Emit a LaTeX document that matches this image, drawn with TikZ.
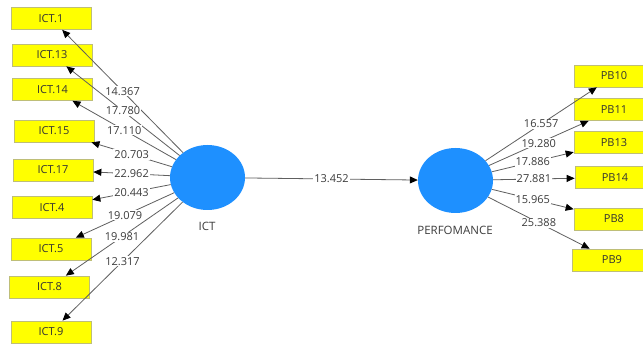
\documentclass[tikz,border=0pt]{standalone}
\usepackage{fontspec}
\setmainfont{Open Sans}
\usetikzlibrary{arrows.meta,shapes.geometric}
\definecolor{lvblue}{RGB}{30,144,255}
\definecolor{mvyellow}{RGB}{255,255,0}
\definecolor{mvborder}{RGB}{190,190,120}
\definecolor{linegray}{RGB}{95,95,95}
\definecolor{numgray}{RGB}{60,60,60}
\tikzset{
  indbox/.style={draw=mvborder, line width=0.7pt, fill=mvyellow, rectangle, minimum width=80pt, minimum height=22pt, inner sep=0pt, font=\fontsize{11}{12}\selectfont, text=black!80},
  latent/.style={ellipse, fill=lvblue, draw=none, minimum width=75pt, minimum height=65pt, inner sep=0pt},
  lvlabel/.style={font=\fontsize{11.5}{12}\selectfont, text=numgray},
  conn/.style={draw=linegray, line width=0.8pt, -{Triangle[length=8pt,width=7pt,color=black]}},
  wt/.style={fill=white, inner sep=1pt, font=\fontsize{11}{12}\selectfont, text=numgray}
}
\begin{document}
\begin{tikzpicture}[x=1pt,y=-1pt]
\useasboundingbox (0,0) rectangle (643,344);
\fill[white] (0,0) rectangle (643,344);
\clip (0,0) rectangle (643,344);
% latent variables
\node[latent] (ict) at (207.5,177.5) {};
\node[latent] (perf) at (455.5,180.5) {};
\node[lvlabel] (ictl) at (207,226) {ICT};
\node[lvlabel] (perfl) at (455,230) {PERFOMANCE};
% left indicators
\node[indbox] (i1) at (51,18.5) {ICT.1};
\node[indbox] (i13) at (52,55) {ICT.13};
\node[indbox] (i14) at (52.5,89.5) {ICT.14};
\node[indbox] (i15) at (54,131) {ICT.15};
\node[indbox] (i17) at (53,170) {ICT.17};
\node[indbox] (i4) at (52,207.5) {ICT.4};
\node[indbox] (i5) at (51,249) {ICT.5};
\node[indbox] (i8) at (49.5,287) {ICT.8};
\node[indbox] (i9) at (51,332) {ICT.9};
% right indicators
\node[indbox] (p10) at (614,76) {PB10};
\node[indbox] (p11) at (614,109.5) {PB11};
\node[indbox] (p13) at (614,142.5) {PB13};
\node[indbox] (p14) at (615,177.5) {PB14};
\node[indbox] (p8) at (614,219) {PB8};
\node[indbox] (p9) at (612,260) {PB9};
% left connectors
\draw[conn] (ict) -- node[wt] {14.367} (i1);
\draw[conn] (ict) -- node[wt] {17.780} (i13);
\draw[conn] (ict) -- node[wt] {17.110} (i14);
\draw[conn] (ict) -- node[wt] {20.703} (i15);
\draw[conn] (ict) -- node[wt] {22.962} (i17);
\draw[conn] (ict) -- node[wt] {20.443} (i4);
\draw[conn] (ict) -- node[wt] {19.079} (i5);
\draw[conn] (ict) -- node[wt] {19.981} (i8);
\draw[conn] (ict) -- node[wt] {12.317} (i9);
% structural path
\draw[conn] (ict) -- node[wt] {13.452} (perf);
% right connectors
\draw[conn] (perf) -- node[wt] {16.557} (p10);
\draw[conn] (perf) -- node[wt] {19.280} (p11);
\draw[conn] (perf) -- node[wt] {17.886} (p13);
\draw[conn] (perf) -- node[wt] {27.881} (p14);
\draw[conn] (perf) -- node[wt] {15.965} (p8);
\draw[conn] (perf) -- node[wt] {25.388} (p9);
\end{tikzpicture}
\end{document}
